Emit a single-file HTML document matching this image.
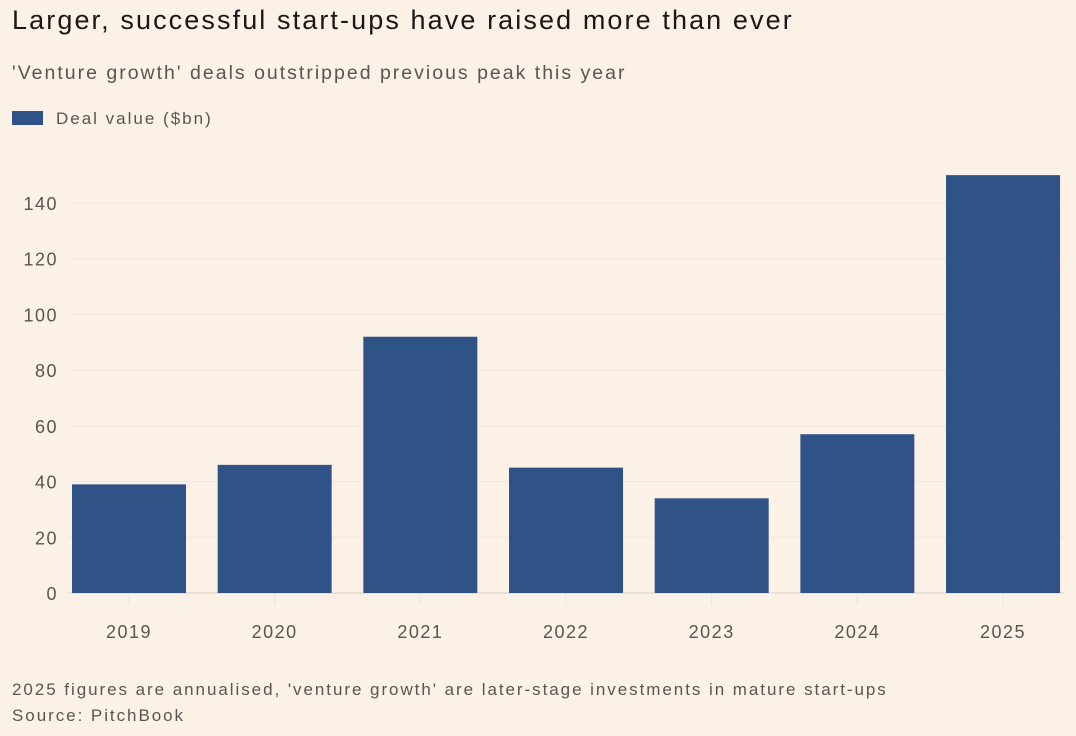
<!DOCTYPE html>
<html><head><meta charset="utf-8"><style>
html,body{margin:0;padding:0;background:#fcf1e7;}
body{width:1076px;height:736px;overflow:hidden;font-family:"Liberation Sans",sans-serif;position:relative;}
.t{position:absolute;white-space:nowrap;}
</style></head><body>
<div class="t" style="left:12px;top:5px;font-size:27px;letter-spacing:2.1px;color:#1a1817;">Larger, successful start-ups have raised more than ever</div>
<div class="t" style="left:12px;top:62px;font-size:19.5px;letter-spacing:2px;color:#5a5550;">'Venture growth' deals outstripped previous peak this year</div>
<div class="t" style="left:12px;top:109px;font-size:17px;letter-spacing:2px;color:#5a5550;"><span style="display:inline-block;width:31px;height:14px;background:#2f5387;vertical-align:-1px;margin-right:13px;"></span>Deal value ($bn)</div>
<svg id="chart" width="1076" height="736" style="position:absolute;left:0;top:0;"></svg>
<div class="t" style="left:12px;top:680px;font-size:17px;letter-spacing:1.95px;color:#5a5550;">2025 figures are annualised, 'venture growth' are later-stage investments in mature start-ups</div>
<div class="t" style="left:12px;top:706px;font-size:17px;letter-spacing:1.95px;color:#5a5550;">Source: PitchBook</div>
<script>
const categories = ["2019","2020","2021","2022","2023","2024","2025"];
const values = [39, 46, 92, 45, 34, 57, 150];
const yTicks = [0, 20, 40, 60, 80, 100, 120, 140];
const NS="http://www.w3.org/2000/svg";
const svg=document.getElementById('chart');
const x0=72, x1=1060, y0=593, yTop=203, vTop=140;
const y=v=>y0-(v/vTop)*(y0-yTop);
const step=(x1-x0+31.7)/categories.length, bw=114;
const bx=i=>x0+i*step;
function mk(tag,attrs){const e=document.createElementNS(NS,tag);for(const k in attrs)e.setAttribute(k,attrs[k]);svg.appendChild(e);return e;}
yTicks.forEach(v=>{
  const g=mk('line',{x1:68,x2:1064,y1:y(v),y2:y(v),stroke:v===0?'#d9cfc6':'#f3e6da','stroke-width':1});
  
  
  const t=mk('text',{x:58,y:y(v)+7,'text-anchor':'end','font-size':18,'letter-spacing':1.5,fill:'#5a5550','font-family':'Liberation Sans, sans-serif'});
  t.textContent=v;
  
  
});
categories.forEach((c,i)=>{
  const r=mk('rect',{x:bx(i),y:y(values[i]),width:bw,height:y0-y(values[i]),fill:'#2f5387'});
  
  
  const tk=mk('line',{x1:bx(i)+bw/2,x2:bx(i)+bw/2,y1:y0,y2:y0+12,stroke:'#efe2d6'});
  
  
  const t=mk('text',{x:bx(i)+bw/2,y:638,'text-anchor':'middle','font-size':18,'letter-spacing':1.5,fill:'#5a5550','font-family':'Liberation Sans, sans-serif'});
  t.textContent=c;
  
  
});
</script>
</body></html>
